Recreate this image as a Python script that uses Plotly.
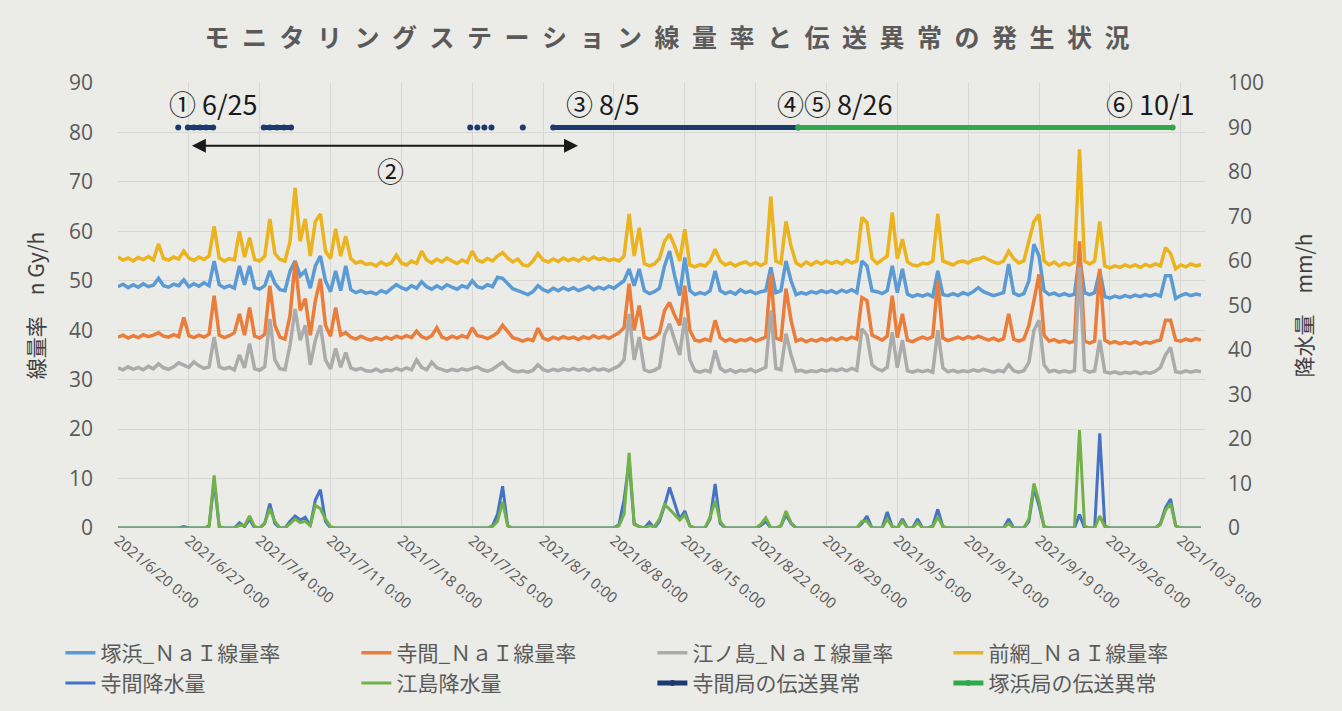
import pandas as pd
import plotly.graph_objects as go

# ---------------- data (12-hour samples from 2021/6/20 0:00) ----------------
START = "2021-06-20 00:00"

MAEAMI = [  # 前網 NaI dose rate (nGy/h)
    54.8, 54.2, 54.6, 54.0, 54.7, 54.3, 54.9, 54.2, 57.5, 54.5,
    54.2, 54.8, 54.4, 56.0, 54.6, 54.1, 54.8, 54.3, 55.0, 61.0,
    54.6, 54.0, 54.5, 54.2, 60.0, 54.8, 58.7, 54.3, 54.0, 55.0,
    62.5, 55.5, 54.3, 54.0, 58.0, 68.8, 58.0, 62.5, 55.0, 62.0,
    63.5, 56.0, 54.5, 60.5, 55.0, 59.0, 54.5, 53.6, 53.9, 53.3,
    53.5, 53.0, 53.8, 53.2, 53.6, 55.2, 53.6, 53.2, 54.0, 53.5,
    56.0, 54.2, 53.6, 54.4, 53.8, 54.6, 54.0, 53.5, 54.2, 53.7,
    56.0, 54.2, 53.8, 54.5, 54.0, 55.0, 55.7, 54.6, 53.8, 54.4,
    53.2, 53.0, 54.0, 55.5, 54.2, 53.8, 54.4, 53.9, 54.6, 54.1,
    54.5, 54.0, 54.7, 54.2, 54.8, 54.3, 54.6, 54.1, 54.4, 54.0,
    55.0, 63.5, 55.0, 60.7, 53.5, 53.0, 53.4, 54.5, 58.0, 59.4,
    57.0, 54.0, 60.4, 53.2, 52.8, 53.3, 53.0, 54.0, 56.4, 54.0,
    53.2, 53.6, 53.0, 53.5, 53.8, 53.2, 53.7, 53.1, 53.6, 67.0,
    54.0, 53.5, 62.0, 57.0, 53.6, 53.0, 53.8, 53.2, 53.9, 53.4,
    54.0, 53.5, 53.9, 53.4, 54.2, 53.6, 54.0, 62.8, 61.8, 54.5,
    53.5, 54.2, 55.0, 63.8, 54.5, 58.4, 53.8, 53.2, 53.0, 53.6,
    53.4, 54.0, 63.5, 54.0, 53.6, 53.2, 53.8, 54.0, 53.6, 54.2,
    54.4, 54.8, 54.3, 53.8, 53.5, 54.0, 56.0, 54.5, 53.6, 54.0,
    58.0, 62.0, 63.4, 54.0, 53.2, 53.8, 53.0, 53.6, 53.2, 53.8,
    76.6, 54.0, 53.4, 54.0, 62.0, 53.0, 52.6, 53.0, 52.7, 53.2,
    52.8, 53.2, 52.7, 53.3, 52.9, 53.4, 53.0, 56.7, 55.5, 52.4,
    53.2, 52.8, 53.4, 53.0, 53.3,
]

TSUKAHAMA = [  # 塚浜 NaI dose rate
    48.8, 49.3, 48.6, 49.2, 48.7, 49.4, 48.8, 49.1, 50.5, 49.0,
    48.7, 49.3, 49.0, 50.2, 48.8, 49.4, 48.9, 49.6, 49.0, 54.0,
    49.2, 48.6, 49.0, 48.5, 53.0, 49.2, 53.0, 48.6, 48.3, 49.0,
    52.0, 49.5, 48.2, 48.0, 52.0, 54.0, 51.0, 52.0, 48.5, 53.0,
    55.0, 50.0, 47.8, 52.0, 48.0, 53.0, 48.2, 47.6, 48.0, 47.5,
    47.7, 47.3, 48.0, 47.6, 48.4, 49.2, 48.6, 48.2, 49.0, 48.5,
    49.8, 48.8, 48.3, 49.0, 48.4, 49.2, 48.7, 48.3, 49.0, 48.6,
    50.0, 48.8, 48.5, 49.2, 48.8, 50.7, 50.5, 49.5, 48.4, 48.0,
    47.6, 47.2, 47.8, 49.0, 48.2, 47.8, 48.5, 48.0, 48.6, 48.1,
    48.6, 48.0, 48.4, 48.9, 48.2, 48.7, 48.3, 48.9, 48.5, 49.2,
    50.0, 52.4, 49.0, 52.4, 48.0, 47.4, 47.8, 48.5, 53.0, 56.0,
    51.0, 47.0, 54.7, 48.0, 47.2, 47.6, 47.3, 48.0, 52.0, 48.0,
    47.4, 47.8, 47.3, 48.2, 47.6, 47.9, 47.4, 47.8, 48.0, 52.7,
    47.6, 48.0, 54.0, 50.0, 47.2, 47.6, 47.3, 47.8, 47.5, 48.0,
    47.6, 48.0, 47.5, 48.1, 47.7, 48.2, 47.6, 54.0, 53.0, 48.0,
    47.8, 47.4, 48.0, 53.0, 47.6, 52.4, 47.3, 46.8, 47.2, 46.9,
    47.3, 46.8, 52.0, 47.2, 47.0, 47.4, 47.0, 47.6, 47.2, 47.8,
    48.6, 47.8, 47.4, 47.0, 47.3, 47.6, 53.4, 47.5, 47.0, 47.4,
    50.0, 57.4, 55.0, 48.0, 47.2, 47.5, 47.0, 47.4, 47.0, 47.3,
    55.0, 47.6, 47.2, 47.6, 52.0, 46.8, 46.5, 46.9, 46.6, 47.0,
    46.7, 47.1, 46.8, 47.2, 46.9, 47.3, 46.9, 51.0, 51.0, 46.4,
    47.0, 47.4, 47.0, 47.3, 47.1,
]

TERAMA = [  # 寺間 NaI dose rate
    38.6, 39.0, 38.4, 38.9, 38.5, 39.1, 38.7, 39.0, 39.5, 38.8,
    38.6, 39.1, 38.7, 42.6, 38.9, 38.5, 39.0, 38.6, 39.2, 47.0,
    39.0, 38.5, 38.9, 39.5, 43.3, 39.0, 44.6, 38.8, 38.4, 39.2,
    49.0, 41.0, 38.6, 38.2, 43.0, 54.0, 44.0, 46.4, 39.0, 46.0,
    50.4, 41.0, 38.8, 44.6, 39.0, 39.5, 38.6, 38.2, 38.8, 38.3,
    38.0, 38.5, 38.1, 38.6, 38.2, 38.8, 38.4, 38.9, 38.5, 39.8,
    38.7, 38.3, 38.9, 40.5, 38.6, 38.2, 38.8, 38.4, 38.9, 38.5,
    40.5, 38.9, 38.7, 38.3, 38.8, 39.5, 41.0, 39.6, 38.5, 38.2,
    37.8, 38.2, 37.9, 40.4, 38.4, 38.0, 38.6, 38.2, 38.7, 38.3,
    38.6, 38.1, 38.7, 38.3, 38.9, 38.4, 38.8, 38.3, 38.9, 39.5,
    40.5, 49.4, 40.0, 45.0, 38.6, 38.2, 38.6, 39.5, 44.0, 45.6,
    43.0, 41.0, 49.0, 40.0, 38.0, 37.8, 38.2, 37.9, 42.0, 38.5,
    37.8, 38.2, 37.7, 38.1, 37.9, 38.4, 37.8, 38.2, 38.6, 51.4,
    38.4, 38.0, 48.4, 42.0, 37.8, 38.2, 37.7, 38.1, 37.8, 38.3,
    37.9, 38.4, 38.0, 38.5, 38.1, 38.6, 38.2, 46.6, 46.0, 39.0,
    38.4, 38.0, 38.8, 47.0, 38.5, 43.3, 38.0, 37.7, 38.2, 38.6,
    38.2, 38.7, 50.0, 38.4, 37.9, 38.3, 38.6, 38.2, 38.7, 38.3,
    38.8, 38.4, 38.0, 38.4, 37.9, 38.3, 43.3, 38.2, 37.8, 38.2,
    41.0, 46.0, 51.3, 39.0, 37.8, 38.1, 37.6, 37.9, 37.5, 37.8,
    58.0, 37.8, 37.4, 37.8, 52.4, 38.0, 37.4, 37.7, 37.3, 37.6,
    37.3, 37.7, 37.2, 37.6, 37.4, 37.8, 38.0, 42.0, 42.0, 38.0,
    37.8, 38.2, 37.9, 38.3, 38.0,
]

ENOSHIMA = [  # 江ノ島 NaI dose rate
    32.4, 32.0, 32.6, 32.1, 32.5, 32.0, 32.7, 32.2, 33.2, 32.4,
    32.1, 32.6, 33.4, 33.0, 32.5, 33.6, 32.8, 32.3, 32.6, 38.6,
    32.6, 32.2, 32.5, 32.0, 35.0, 32.4, 37.3, 32.2, 31.9, 32.6,
    42.3, 34.0, 32.2, 32.0, 37.0, 44.3, 38.0, 41.0, 33.0, 38.0,
    41.0, 34.0, 32.2, 36.3, 32.5, 35.5, 32.4, 32.0, 32.3, 31.8,
    31.7, 32.1, 31.6, 32.0, 31.8, 32.3, 31.9, 32.4, 32.0, 34.0,
    32.5, 32.0, 33.5, 32.4, 32.0, 31.7, 32.1, 31.8, 32.2, 31.9,
    32.3, 32.6, 32.0, 31.7, 32.1, 32.8, 33.5, 32.4, 31.8, 31.6,
    31.8, 31.5, 31.9, 33.0, 32.0, 31.7, 32.1, 31.8, 32.2, 31.9,
    32.3, 31.9, 32.2, 31.8, 32.3, 31.9, 32.2, 31.8, 32.4, 32.8,
    34.0, 43.3, 34.0, 38.6, 32.0, 31.6, 31.9, 32.5, 39.0, 41.3,
    38.0, 35.0, 42.6, 34.0, 31.8, 31.5, 31.9, 31.6, 35.9, 32.3,
    31.6, 32.0, 31.5, 31.9, 31.7, 32.1, 31.6, 32.0, 32.5, 44.0,
    32.3, 32.0, 39.3, 35.0, 31.7, 31.9, 31.5, 31.8, 31.6, 32.0,
    31.7, 32.1, 31.8, 32.2, 31.8, 32.3, 31.9, 40.3, 39.0, 33.0,
    32.2, 31.8, 32.5, 39.6, 32.4, 38.0, 31.8, 31.5, 31.9, 31.6,
    31.9, 31.5, 40.0, 32.4, 31.6, 31.9, 31.5, 31.8, 31.6, 32.0,
    31.7, 32.1, 31.8, 31.5, 31.9, 31.6, 33.0, 31.8, 31.5, 31.8,
    33.5, 40.0, 42.0, 33.0, 31.6, 31.9, 31.5, 31.8, 31.5, 31.8,
    52.7, 32.0, 31.5, 31.8, 38.0, 31.6, 31.3, 31.6, 31.2, 31.5,
    31.3, 31.6, 31.2, 31.5, 31.3, 31.7, 32.5, 35.0, 36.5, 31.6,
    31.4, 31.8, 31.5, 31.8, 31.6,
]

RAIN_TERAMA = [  # 寺間 precipitation (mm/h)
    0, 0, 0, 0, 0, 0, 0, 0, 0, 0,
    0, 0, 0, 0.3, 0, 0, 0, 0, 0.5, 10.5,
    0.3, 0, 0, 0, 1.2, 0.3, 2.0, 0, 0, 1.0,
    5.5, 1.0, 0, 0, 1.5, 2.7, 1.8, 2.4, 0.5, 6.3,
    8.6, 1.5, 0, 0, 0, 0, 0, 0, 0, 0,
    0, 0, 0, 0, 0, 0, 0, 0, 0, 0,
    0, 0, 0, 0, 0, 0, 0, 0, 0, 0,
    0, 0, 0, 0, 0.5, 3.1, 9.4, 0.5, 0, 0,
    0, 0, 0, 0, 0, 0, 0, 0, 0, 0,
    0, 0, 0, 0, 0, 0, 0, 0, 0, 0.8,
    6.3, 15.0, 1.0, 0.3, 0, 1.3, 0, 1.5, 5.0, 9.1,
    5.7, 2.0, 3.8, 0.5, 0, 0, 0, 2.0, 9.9, 1.0,
    0, 0, 0, 0, 0, 0, 0, 0.5, 1.5, 0,
    0, 0.5, 3.0, 1.0, 0, 0, 0, 0, 0, 0,
    0, 0, 0, 0, 0, 0, 0, 1.0, 2.7, 0,
    0, 0, 3.6, 0.3, 0, 2.0, 0, 0, 2.0, 0,
    0, 0.5, 4.2, 0.3, 0, 0, 0, 0, 0, 0,
    0, 0, 0, 0, 0, 0, 2.0, 0, 0, 0,
    1.5, 9.0, 5.0, 0.3, 0, 0, 0, 0, 0, 0,
    3.0, 0, 0, 0, 21.3, 0.5, 0, 0, 0, 0,
    0, 0, 0, 0, 0, 0, 1.0, 4.6, 6.5, 0.5,
    0, 0, 0, 0, 0,
]

RAIN_ENOSHIMA = [  # 江島 precipitation (mm/h)
    0, 0, 0, 0, 0, 0, 0, 0, 0, 0,
    0, 0, 0, 0, 0, 0, 0, 0, 0.3, 11.8,
    0.3, 0, 0, 0, 0.6, 0.5, 2.7, 0.3, 0, 1.2,
    4.3, 1.5, 0, 0, 1.0, 2.0, 1.2, 1.5, 0.5, 5.1,
    4.3, 2.0, 0.3, 0, 0, 0, 0, 0, 0, 0,
    0, 0, 0, 0, 0, 0, 0, 0, 0, 0,
    0, 0, 0, 0, 0, 0, 0, 0, 0, 0,
    0, 0, 0, 0, 0.3, 1.5, 5.9, 0.5, 0, 0,
    0, 0, 0, 0, 0, 0, 0, 0, 0, 0,
    0, 0, 0, 0, 0, 0, 0, 0, 0, 0.5,
    3.1, 16.9, 0.8, 0.3, 0, 0.5, 0.3, 2.0, 5.3, 4.2,
    3.0, 1.8, 3.0, 0.5, 0, 0, 0, 2.5, 6.1, 1.5,
    0, 0, 0, 0, 0, 0, 0, 0.8, 2.3, 0,
    0, 0.5, 3.8, 1.2, 0, 0, 0, 0, 0, 0,
    0, 0, 0, 0, 0, 0, 0, 1.5, 1.5, 0,
    0, 0, 2.0, 0.3, 0, 1.5, 0, 0, 1.2, 0,
    0, 0.3, 2.5, 0.3, 0, 0, 0, 0, 0, 0,
    0, 0, 0, 0, 0, 0, 1.0, 0, 0, 0,
    2.0, 10.0, 6.0, 0.3, 0, 0, 0, 0, 0, 0,
    22.0, 0.5, 0, 0, 2.7, 0.3, 0, 0, 0, 0,
    0, 0, 0, 0, 0, 0, 0.8, 4.0, 5.5, 0.5,
    0, 0, 0, 0, 0,
]

# transmission anomaly periods (days after 2021/6/20 0:00; None = gap)
TERAMA_ANOMALY_DAYS = [5.95, None, 6.9, 7.5, 8.1, 8.7, 9.4, None,
                       14.4, 15.0, 15.7, 16.4, 17.1, None,
                       34.8, None, 35.5, None, 36.2, None, 36.9, None,
                       40.0, None, 43.0, 67.2]
TSUKAHAMA_ANOMALY_DAYS = [67.2, 104.2]
ANOMALY_LEVEL = 90  # drawn on the precipitation axis

NAMES = ["塚浜_ＮａＩ線量率", "寺間_ＮａＩ線量率", "江ノ島_ＮａＩ線量率", "前網_ＮａＩ線量率",
         "寺間降水量", "江島降水量", "寺間局の伝送異常", "塚浜局の伝送異常"]
COLORS = ["#5B9BD5", "#EB7D3A", "#ABABAB", "#EBB41E",
          "#4472C4", "#72B048", "#1C3A72", "#2EAA4C"]

TITLE = "モニタリングステーション線量率と伝送異常の発生状況"
Y1_TITLE = "線量率　n Gy/h"
Y2_TITLE = "降水量　mm/h"

# annotation labels: (text, day, left-axis value)
LABELS = [("① 6/25", 9.4, 85.8), ("③ 8/5", 47.9, 85.8),
          ("④⑤ 8/26", 70.8, 85.8), ("⑥ 10/1", 102.0, 85.8),
          ("②", 26.9, 72.4)]
ARROW = (7.3, 45.6, 77.3)  # start day, end day, left-axis value

# ---------------- figure ----------------
base = pd.Timestamp(START)
times = pd.date_range(START, periods=len(MAEAMI), freq="12h")


def day_to_time(d):
    return None if d is None else base + pd.to_timedelta(d, unit="D")


fig = go.Figure()
dose = [TSUKAHAMA, TERAMA, ENOSHIMA, MAEAMI]
for k, vals in enumerate(dose):
    fig.add_trace(go.Scatter(x=times, y=vals, name=NAMES[k], mode="lines",
                             line=dict(color=COLORS[k], width=3.5), yaxis="y"))

for k, vals in zip([4, 5], [RAIN_TERAMA, RAIN_ENOSHIMA]):
    fig.add_trace(go.Scatter(x=times, y=vals, name=NAMES[k], mode="lines",
                             line=dict(color=COLORS[k], width=3), yaxis="y2"))

for k, days in zip([6, 7], [TERAMA_ANOMALY_DAYS, TSUKAHAMA_ANOMALY_DAYS]):
    xs = [day_to_time(d) for d in days]
    ys = [None if d is None else ANOMALY_LEVEL for d in days]
    fig.add_trace(go.Scatter(x=xs, y=ys, name=NAMES[k], mode="lines+markers",
                             line=dict(color=COLORS[k], width=5),
                             marker=dict(color=COLORS[k], size=6),
                             connectgaps=False, yaxis="y2"))

annotations = []
for text, d, v in LABELS:
    annotations.append(dict(x=day_to_time(d), y=v, xref="x", yref="y", text=text,
                            showarrow=False, xanchor="center", yanchor="middle",
                            font=dict(family="Noto Sans CJK JP", size=27, color="#1a1a1a")))
a0, a1, av = ARROW
annotations.append(dict(x=day_to_time(a0), y=av, ax=day_to_time(a1), ay=av,
                        xref="x", yref="y", axref="x", ayref="y", text="",
                        showarrow=True, arrowhead=2, arrowside="end+start",
                        arrowsize=1.4, arrowwidth=2, arrowcolor="#1a1a1a"))

TICK_FONT = dict(family="Open Sans", size=21, color="#5a5a5a")
TITLE_FONT = dict(family="Noto Sans CJK JP", size=21, color="#404040")
GRID = "#D7D7D4"
BG = "#EBEBE7"

fig.update_layout(
    width=1342, height=711,
    margin=dict(l=118, r=137, t=83, b=183, autoexpand=False),
    paper_bgcolor=BG, plot_bgcolor=BG,
    title=dict(text="\u2002".join(TITLE), x=0.497, xanchor="center",
               y=1 - 38 / 711, yanchor="middle",
               font=dict(family="Noto Sans CJK JP", size=25, color="#5a5a5a", weight="bold")),
    xaxis=dict(type="date", automargin=False,
               range=[base, base + pd.to_timedelta(107.4, unit="D")],
               tick0=base, dtick=7 * 86400000,
               tickformat="%Y/%-m/%-d %-H:%M", tickangle=40,
               tickfont=dict(family="Open Sans", size=15, color="#5a5a5a"),
               showgrid=True, gridcolor=GRID, gridwidth=1,
               showline=False, zeroline=False, ticks=""),
    yaxis=dict(range=[0, 90], dtick=10, tickfont=TICK_FONT, automargin=False,
               showgrid=True, gridcolor=GRID, zeroline=False, ticks="",
               ticklabelstandoff=24,
               title=dict(text=Y1_TITLE, font=TITLE_FONT, standoff=18)),
    yaxis2=dict(range=[0, 100], dtick=10, tickfont=TICK_FONT, overlaying="y",
                side="right", showgrid=False, zeroline=False, ticks="",
                ticklabelstandoff=22, automargin=False,
                title=dict(text=Y2_TITLE, font=TITLE_FONT, standoff=34)),
    legend=dict(orientation="h", x=-0.053, xanchor="left", y=-0.235, yanchor="top",
                font=dict(family="Noto Sans CJK JP", size=21, color="#5a5a5a"),
                entrywidth=251, entrywidthmode="pixels",
                bgcolor="rgba(0,0,0,0)", traceorder="normal"),
    annotations=annotations,
    showlegend=True,
)

fig.write_html(
    "out.html",
    config={"displayModeBar": False},
    post_script=("document.body.style.margin='0';"
                 "document.body.style.overflow='hidden';"
                 "document.body.style.background='" + BG + "';"),
)
